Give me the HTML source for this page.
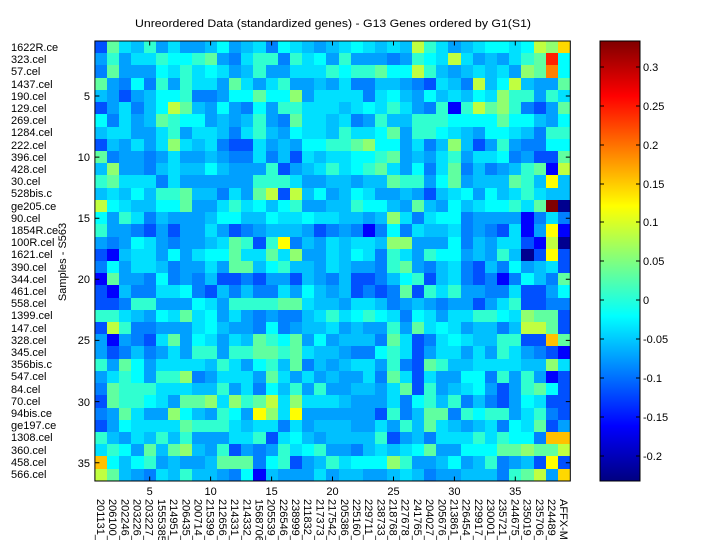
<!DOCTYPE html>
<html><head><meta charset="utf-8"><style>
html,body{margin:0;padding:0;background:#fff;width:720px;height:540px;overflow:hidden}
#hm{position:absolute;left:94.9px;top:41px;width:475.4px;height:440px;overflow:hidden}
#hm div{display:flex;height:12.222px;overflow:hidden;width:475.4px}
#hm i{display:block;flex:0 0 12.19px;height:100%}
.N{background:#00008f}.B{background:#0000ff}.b{background:#0050ff}.m{background:#0080ff}.a{background:#00a0ff}.s{background:#00c0ff}.c{background:#00e0ff}.C{background:#00ffff}.t{background:#30ffd0}.g{background:#60ffa0}.G{background:#90ff70}.y{background:#c0ff40}.Y{background:#ffff00}.Q{background:#ffd800}.O{background:#ffc000}.o{background:#ff8000}.R{background:#ff2000}.D{background:#800000}
svg{position:absolute;left:0;top:0}
text{font-family:"Liberation Sans",sans-serif;font-size:11px;fill:#000}
</style></head><body>
<div id="hm">
<div><i class=b></i><i class=g></i><i class=c></i><i class=s></i><i class=t></i><i class=a></i><i class=c></i><i class=a></i><i class=a></i><i class=s></i><i class=C></i><i class=a></i><i class=s></i><i class=c></i><i class=m></i><i class=C></i><i class=c></i><i class=s></i><i class=a></i><i class=s></i><i class=c></i><i class=C></i><i class=c></i><i class=s></i><i class=c></i><i class=s></i><i class=y></i><i class=t></i><i class=c></i><i class=a></i><i class=s></i><i class=c></i><i class=C></i><i class=C></i><i class=c></i><i class=C></i><i class=y></i><i class=G></i><i class=Q></i></div>
<div><i class=a></i><i class=t></i><i class=a></i><i class=c></i><i class=c></i><i class=t></i><i class=C></i><i class=C></i><i class=t></i><i class=g></i><i class=a></i><i class=m></i><i class=c></i><i class=t></i><i class=t></i><i class=m></i><i class=t></i><i class=c></i><i class=C></i><i class=a></i><i class=t></i><i class=a></i><i class=a></i><i class=a></i><i class=m></i><i class=a></i><i class=t></i><i class=C></i><i class=c></i><i class=y></i><i class=c></i><i class=a></i><i class=s></i><i class=a></i><i class=c></i><i class=t></i><i class=g></i><i class=R></i><i class=C></i></div>
<div><i class=m></i><i class=g></i><i class=a></i><i class=a></i><i class=a></i><i class=C></i><i class=c></i><i class=t></i><i class=c></i><i class=C></i><i class=c></i><i class=a></i><i class=s></i><i class=t></i><i class=a></i><i class=a></i><i class=c></i><i class=c></i><i class=c></i><i class=t></i><i class=C></i><i class=t></i><i class=t></i><i class=g></i><i class=C></i><i class=C></i><i class=y></i><i class=t></i><i class=s></i><i class=a></i><i class=s></i><i class=c></i><i class=s></i><i class=c></i><i class=a></i><i class=G></i><i class=g></i><i class=o></i><i class=C></i></div>
<div><i class=g></i><i class=a></i><i class=m></i><i class=C></i><i class=m></i><i class=t></i><i class=a></i><i class=t></i><i class=c></i><i class=c></i><i class=a></i><i class=g></i><i class=c></i><i class=a></i><i class=c></i><i class=t></i><i class=a></i><i class=a></i><i class=s></i><i class=a></i><i class=c></i><i class=m></i><i class=m></i><i class=s></i><i class=s></i><i class=a></i><i class=m></i><i class=b></i><i class=c></i><i class=s></i><i class=m></i><i class=y></i><i class=s></i><i class=C></i><i class=y></i><i class=s></i><i class=a></i><i class=a></i><i class=g></i></div>
<div><i class=s></i><i class=a></i><i class=b></i><i class=a></i><i class=s></i><i class=C></i><i class=C></i><i class=t></i><i class=m></i><i class=m></i><i class=a></i><i class=C></i><i class=C></i><i class=g></i><i class=C></i><i class=C></i><i class=G></i><i class=a></i><i class=c></i><i class=c></i><i class=c></i><i class=c></i><i class=m></i><i class=c></i><i class=C></i><i class=s></i><i class=a></i><i class=C></i><i class=s></i><i class=c></i><i class=s></i><i class=C></i><i class=c></i><i class=G></i><i class=t></i><i class=t></i><i class=a></i><i class=t></i><i class=c></i></div>
<div><i class=b></i><i class=a></i><i class=c></i><i class=m></i><i class=s></i><i class=C></i><i class=y></i><i class=g></i><i class=s></i><i class=a></i><i class=C></i><i class=a></i><i class=m></i><i class=C></i><i class=a></i><i class=t></i><i class=t></i><i class=c></i><i class=c></i><i class=c></i><i class=s></i><i class=c></i><i class=C></i><i class=c></i><i class=t></i><i class=c></i><i class=a></i><i class=m></i><i class=t></i><i class=B></i><i class=t></i><i class=y></i><i class=g></i><i class=G></i><i class=t></i><i class=m></i><i class=b></i><i class=a></i><i class=g></i></div>
<div><i class=C></i><i class=m></i><i class=c></i><i class=a></i><i class=s></i><i class=g></i><i class=t></i><i class=C></i><i class=C></i><i class=a></i><i class=s></i><i class=a></i><i class=s></i><i class=t></i><i class=a></i><i class=m></i><i class=g></i><i class=c></i><i class=c></i><i class=s></i><i class=c></i><i class=m></i><i class=a></i><i class=t></i><i class=s></i><i class=s></i><i class=t></i><i class=t></i><i class=t></i><i class=C></i><i class=C></i><i class=C></i><i class=C></i><i class=g></i><i class=C></i><i class=C></i><i class=s></i><i class=a></i><i class=C></i></div>
<div><i class=s></i><i class=c></i><i class=c></i><i class=a></i><i class=a></i><i class=c></i><i class=t></i><i class=a></i><i class=c></i><i class=c></i><i class=s></i><i class=m></i><i class=c></i><i class=t></i><i class=s></i><i class=a></i><i class=C></i><i class=c></i><i class=c></i><i class=s></i><i class=t></i><i class=c></i><i class=c></i><i class=C></i><i class=g></i><i class=a></i><i class=t></i><i class=t></i><i class=C></i><i class=c></i><i class=s></i><i class=a></i><i class=C></i><i class=C></i><i class=c></i><i class=s></i><i class=m></i><i class=t></i><i class=t></i></div>
<div><i class=b></i><i class=s></i><i class=a></i><i class=c></i><i class=a></i><i class=c></i><i class=G></i><i class=c></i><i class=s></i><i class=c></i><i class=m></i><i class=b></i><i class=b></i><i class=c></i><i class=a></i><i class=s></i><i class=a></i><i class=C></i><i class=C></i><i class=t></i><i class=t></i><i class=g></i><i class=G></i><i class=C></i><i class=C></i><i class=a></i><i class=c></i><i class=m></i><i class=s></i><i class=G></i><i class=s></i><i class=b></i><i class=a></i><i class=t></i><i class=a></i><i class=m></i><i class=m></i><i class=C></i><i class=C></i></div>
<div><i class=g></i><i class=m></i><i class=a></i><i class=a></i><i class=m></i><i class=a></i><i class=c></i><i class=a></i><i class=a></i><i class=s></i><i class=a></i><i class=m></i><i class=m></i><i class=c></i><i class=m></i><i class=s></i><i class=b></i><i class=c></i><i class=s></i><i class=c></i><i class=c></i><i class=C></i><i class=C></i><i class=t></i><i class=g></i><i class=a></i><i class=s></i><i class=a></i><i class=c></i><i class=t></i><i class=a></i><i class=c></i><i class=c></i><i class=C></i><i class=m></i><i class=a></i><i class=b></i><i class=b></i><i class=g></i></div>
<div><i class=s></i><i class=G></i><i class=a></i><i class=a></i><i class=m></i><i class=s></i><i class=c></i><i class=s></i><i class=s></i><i class=C></i><i class=s></i><i class=a></i><i class=a></i><i class=a></i><i class=t></i><i class=b></i><i class=a></i><i class=s></i><i class=c></i><i class=t></i><i class=c></i><i class=C></i><i class=t></i><i class=g></i><i class=c></i><i class=a></i><i class=C></i><i class=m></i><i class=c></i><i class=g></i><i class=m></i><i class=s></i><i class=m></i><i class=a></i><i class=s></i><i class=t></i><i class=g></i><i class=B></i><i class=y></i></div>
<div><i class=t></i><i class=g></i><i class=c></i><i class=c></i><i class=c></i><i class=m></i><i class=c></i><i class=a></i><i class=a></i><i class=a></i><i class=a></i><i class=a></i><i class=a></i><i class=t></i><i class=t></i><i class=t></i><i class=c></i><i class=a></i><i class=a></i><i class=s></i><i class=s></i><i class=a></i><i class=s></i><i class=s></i><i class=g></i><i class=t></i><i class=t></i><i class=a></i><i class=C></i><i class=g></i><i class=a></i><i class=s></i><i class=s></i><i class=s></i><i class=g></i><i class=t></i><i class=s></i><i class=Y></i><i class=s></i></div>
<div><i class=s></i><i class=c></i><i class=s></i><i class=C></i><i class=s></i><i class=t></i><i class=t></i><i class=g></i><i class=s></i><i class=s></i><i class=m></i><i class=c></i><i class=a></i><i class=g></i><i class=y></i><i class=b></i><i class=y></i><i class=s></i><i class=C></i><i class=a></i><i class=s></i><i class=C></i><i class=c></i><i class=a></i><i class=a></i><i class=s></i><i class=a></i><i class=b></i><i class=s></i><i class=c></i><i class=C></i><i class=a></i><i class=C></i><i class=s></i><i class=c></i><i class=t></i><i class=c></i><i class=s></i><i class=s></i></div>
<div><i class=y></i><i class=C></i><i class=c></i><i class=s></i><i class=s></i><i class=C></i><i class=C></i><i class=g></i><i class=a></i><i class=a></i><i class=c></i><i class=t></i><i class=c></i><i class=C></i><i class=s></i><i class=C></i><i class=t></i><i class=a></i><i class=a></i><i class=s></i><i class=s></i><i class=t></i><i class=C></i><i class=C></i><i class=s></i><i class=a></i><i class=g></i><i class=s></i><i class=a></i><i class=C></i><i class=s></i><i class=c></i><i class=C></i><i class=C></i><i class=t></i><i class=c></i><i class=g></i><i class=D></i><i class=N></i></div>
<div><i class=C></i><i class=a></i><i class=t></i><i class=c></i><i class=m></i><i class=s></i><i class=a></i><i class=a></i><i class=a></i><i class=s></i><i class=C></i><i class=C></i><i class=s></i><i class=s></i><i class=C></i><i class=c></i><i class=c></i><i class=C></i><i class=c></i><i class=c></i><i class=s></i><i class=s></i><i class=a></i><i class=s></i><i class=G></i><i class=c></i><i class=m></i><i class=c></i><i class=C></i><i class=C></i><i class=m></i><i class=a></i><i class=a></i><i class=a></i><i class=a></i><i class=B></i><i class=m></i><i class=c></i><i class=m></i></div>
<div><i class=t></i><i class=a></i><i class=a></i><i class=m></i><i class=b></i><i class=a></i><i class=b></i><i class=a></i><i class=a></i><i class=c></i><i class=a></i><i class=b></i><i class=m></i><i class=a></i><i class=s></i><i class=s></i><i class=s></i><i class=a></i><i class=b></i><i class=m></i><i class=a></i><i class=m></i><i class=B></i><i class=m></i><i class=C></i><i class=m></i><i class=c></i><i class=s></i><i class=s></i><i class=c></i><i class=m></i><i class=a></i><i class=m></i><i class=b></i><i class=c></i><i class=B></i><i class=a></i><i class=Y></i><i class=B></i></div>
<div><i class=a></i><i class=m></i><i class=a></i><i class=C></i><i class=c></i><i class=a></i><i class=m></i><i class=a></i><i class=a></i><i class=s></i><i class=c></i><i class=g></i><i class=t></i><i class=b></i><i class=t></i><i class=Y></i><i class=m></i><i class=s></i><i class=a></i><i class=c></i><i class=s></i><i class=c></i><i class=c></i><i class=s></i><i class=G></i><i class=G></i><i class=a></i><i class=a></i><i class=a></i><i class=C></i><i class=m></i><i class=s></i><i class=a></i><i class=c></i><i class=c></i><i class=b></i><i class=B></i><i class=y></i><i class=N></i></div>
<div><i class=b></i><i class=B></i><i class=s></i><i class=c></i><i class=c></i><i class=a></i><i class=C></i><i class=a></i><i class=c></i><i class=C></i><i class=C></i><i class=g></i><i class=c></i><i class=c></i><i class=g></i><i class=c></i><i class=G></i><i class=a></i><i class=a></i><i class=c></i><i class=s></i><i class=C></i><i class=c></i><i class=m></i><i class=t></i><i class=c></i><i class=a></i><i class=t></i><i class=C></i><i class=C></i><i class=a></i><i class=s></i><i class=a></i><i class=t></i><i class=s></i><i class=N></i><i class=b></i><i class=Y></i><i class=b></i></div>
<div><i class=m></i><i class=C></i><i class=a></i><i class=c></i><i class=c></i><i class=s></i><i class=m></i><i class=a></i><i class=a></i><i class=c></i><i class=a></i><i class=g></i><i class=g></i><i class=s></i><i class=C></i><i class=t></i><i class=s></i><i class=s></i><i class=a></i><i class=c></i><i class=s></i><i class=a></i><i class=a></i><i class=m></i><i class=t></i><i class=g></i><i class=a></i><i class=m></i><i class=s></i><i class=c></i><i class=m></i><i class=b></i><i class=s></i><i class=m></i><i class=C></i><i class=a></i><i class=s></i><i class=c></i><i class=b></i></div>
<div><i class=B></i><i class=g></i><i class=a></i><i class=a></i><i class=m></i><i class=C></i><i class=m></i><i class=a></i><i class=m></i><i class=s></i><i class=b></i><i class=b></i><i class=m></i><i class=b></i><i class=a></i><i class=a></i><i class=b></i><i class=s></i><i class=a></i><i class=m></i><i class=s></i><i class=b></i><i class=b></i><i class=m></i><i class=s></i><i class=C></i><i class=t></i><i class=b></i><i class=s></i><i class=c></i><i class=m></i><i class=b></i><i class=m></i><i class=B></i><i class=m></i><i class=C></i><i class=s></i><i class=m></i><i class=g></i></div>
<div><i class=b></i><i class=B></i><i class=s></i><i class=m></i><i class=m></i><i class=c></i><i class=c></i><i class=C></i><i class=m></i><i class=b></i><i class=s></i><i class=m></i><i class=s></i><i class=m></i><i class=m></i><i class=c></i><i class=a></i><i class=C></i><i class=s></i><i class=a></i><i class=s></i><i class=b></i><i class=m></i><i class=b></i><i class=m></i><i class=g></i><i class=b></i><i class=t></i><i class=c></i><i class=t></i><i class=a></i><i class=a></i><i class=m></i><i class=m></i><i class=c></i><i class=b></i><i class=b></i><i class=a></i><i class=C></i></div>
<div><i class=b></i><i class=b></i><i class=m></i><i class=t></i><i class=t></i><i class=a></i><i class=a></i><i class=a></i><i class=C></i><i class=c></i><i class=a></i><i class=t></i><i class=t></i><i class=t></i><i class=t></i><i class=g></i><i class=g></i><i class=c></i><i class=s></i><i class=s></i><i class=a></i><i class=c></i><i class=c></i><i class=s></i><i class=m></i><i class=a></i><i class=s></i><i class=a></i><i class=m></i><i class=a></i><i class=a></i><i class=b></i><i class=a></i><i class=c></i><i class=t></i><i class=b></i><i class=b></i><i class=m></i><i class=m></i></div>
<div><i class=t></i><i class=t></i><i class=c></i><i class=s></i><i class=a></i><i class=C></i><i class=c></i><i class=g></i><i class=c></i><i class=C></i><i class=a></i><i class=c></i><i class=a></i><i class=m></i><i class=a></i><i class=m></i><i class=m></i><i class=s></i><i class=c></i><i class=t></i><i class=c></i><i class=C></i><i class=t></i><i class=C></i><i class=c></i><i class=m></i><i class=C></i><i class=c></i><i class=a></i><i class=c></i><i class=c></i><i class=t></i><i class=t></i><i class=C></i><i class=c></i><i class=G></i><i class=g></i><i class=g></i><i class=b></i></div>
<div><i class=b></i><i class=y></i><i class=t></i><i class=m></i><i class=m></i><i class=a></i><i class=a></i><i class=a></i><i class=c></i><i class=C></i><i class=s></i><i class=a></i><i class=a></i><i class=m></i><i class=C></i><i class=m></i><i class=a></i><i class=s></i><i class=s></i><i class=c></i><i class=a></i><i class=s></i><i class=a></i><i class=a></i><i class=t></i><i class=a></i><i class=g></i><i class=c></i><i class=C></i><i class=c></i><i class=a></i><i class=s></i><i class=s></i><i class=m></i><i class=s></i><i class=y></i><i class=y></i><i class=g></i><i class=b></i></div>
<div><i class=a></i><i class=B></i><i class=a></i><i class=m></i><i class=b></i><i class=c></i><i class=g></i><i class=a></i><i class=C></i><i class=c></i><i class=a></i><i class=c></i><i class=s></i><i class=g></i><i class=t></i><i class=C></i><i class=g></i><i class=a></i><i class=C></i><i class=a></i><i class=s></i><i class=s></i><i class=s></i><i class=m></i><i class=g></i><i class=c></i><i class=b></i><i class=m></i><i class=c></i><i class=C></i><i class=c></i><i class=s></i><i class=s></i><i class=t></i><i class=t></i><i class=b></i><i class=b></i><i class=O></i><i class=g></i></div>
<div><i class=a></i><i class=b></i><i class=m></i><i class=s></i><i class=m></i><i class=a></i><i class=c></i><i class=a></i><i class=t></i><i class=t></i><i class=a></i><i class=t></i><i class=t></i><i class=g></i><i class=g></i><i class=t></i><i class=g></i><i class=c></i><i class=s></i><i class=s></i><i class=a></i><i class=m></i><i class=m></i><i class=C></i><i class=t></i><i class=c></i><i class=b></i><i class=a></i><i class=c></i><i class=c></i><i class=a></i><i class=c></i><i class=a></i><i class=t></i><i class=c></i><i class=a></i><i class=m></i><i class=b></i><i class=B></i></div>
<div><i class=t></i><i class=a></i><i class=g></i><i class=C></i><i class=a></i><i class=c></i><i class=c></i><i class=c></i><i class=c></i><i class=s></i><i class=t></i><i class=c></i><i class=a></i><i class=C></i><i class=t></i><i class=s></i><i class=g></i><i class=m></i><i class=s></i><i class=a></i><i class=s></i><i class=c></i><i class=c></i><i class=a></i><i class=t></i><i class=m></i><i class=b></i><i class=g></i><i class=t></i><i class=s></i><i class=s></i><i class=c></i><i class=c></i><i class=c></i><i class=c></i><i class=s></i><i class=s></i><i class=G></i><i class=c></i></div>
<div><i class=a></i><i class=c></i><i class=t></i><i class=C></i><i class=a></i><i class=t></i><i class=t></i><i class=G></i><i class=m></i><i class=a></i><i class=c></i><i class=c></i><i class=c></i><i class=a></i><i class=g></i><i class=c></i><i class=a></i><i class=c></i><i class=a></i><i class=s></i><i class=a></i><i class=a></i><i class=c></i><i class=m></i><i class=g></i><i class=c></i><i class=b></i><i class=c></i><i class=a></i><i class=a></i><i class=C></i><i class=C></i><i class=m></i><i class=t></i><i class=a></i><i class=t></i><i class=a></i><i class=B></i><i class=b></i></div>
<div><i class=m></i><i class=g></i><i class=t></i><i class=t></i><i class=t></i><i class=c></i><i class=c></i><i class=c></i><i class=s></i><i class=s></i><i class=t></i><i class=a></i><i class=c></i><i class=m></i><i class=C></i><i class=s></i><i class=t></i><i class=a></i><i class=t></i><i class=a></i><i class=a></i><i class=s></i><i class=s></i><i class=a></i><i class=c></i><i class=g></i><i class=b></i><i class=t></i><i class=a></i><i class=s></i><i class=c></i><i class=C></i><i class=a></i><i class=b></i><i class=a></i><i class=t></i><i class=g></i><i class=C></i><i class=b></i></div>
<div><i class=b></i><i class=g></i><i class=t></i><i class=t></i><i class=C></i><i class=c></i><i class=a></i><i class=g></i><i class=g></i><i class=G></i><i class=c></i><i class=G></i><i class=t></i><i class=g></i><i class=y></i><i class=c></i><i class=G></i><i class=c></i><i class=c></i><i class=c></i><i class=s></i><i class=a></i><i class=a></i><i class=a></i><i class=c></i><i class=m></i><i class=C></i><i class=t></i><i class=s></i><i class=t></i><i class=m></i><i class=s></i><i class=m></i><i class=b></i><i class=a></i><i class=C></i><i class=c></i><i class=b></i><i class=b></i></div>
<div><i class=m></i><i class=a></i><i class=g></i><i class=c></i><i class=a></i><i class=a></i><i class=G></i><i class=C></i><i class=s></i><i class=a></i><i class=t></i><i class=C></i><i class=a></i><i class=Y></i><i class=G></i><i class=c></i><i class=Y></i><i class=a></i><i class=a></i><i class=a></i><i class=a></i><i class=a></i><i class=a></i><i class=b></i><i class=t></i><i class=m></i><i class=s></i><i class=g></i><i class=g></i><i class=m></i><i class=t></i><i class=C></i><i class=t></i><i class=t></i><i class=a></i><i class=c></i><i class=t></i><i class=m></i><i class=b></i></div>
<div><i class=b></i><i class=a></i><i class=C></i><i class=c></i><i class=c></i><i class=c></i><i class=c></i><i class=g></i><i class=t></i><i class=t></i><i class=t></i><i class=c></i><i class=s></i><i class=c></i><i class=c></i><i class=m></i><i class=c></i><i class=a></i><i class=s></i><i class=s></i><i class=s></i><i class=a></i><i class=a></i><i class=c></i><i class=a></i><i class=t></i><i class=s></i><i class=g></i><i class=c></i><i class=s></i><i class=a></i><i class=s></i><i class=c></i><i class=m></i><i class=C></i><i class=c></i><i class=g></i><i class=b></i><i class=a></i></div>
<div><i class=t></i><i class=s></i><i class=a></i><i class=c></i><i class=s></i><i class=t></i><i class=s></i><i class=t></i><i class=a></i><i class=a></i><i class=a></i><i class=c></i><i class=c></i><i class=t></i><i class=b></i><i class=c></i><i class=C></i><i class=s></i><i class=a></i><i class=s></i><i class=s></i><i class=s></i><i class=s></i><i class=t></i><i class=b></i><i class=a></i><i class=s></i><i class=m></i><i class=c></i><i class=c></i><i class=c></i><i class=t></i><i class=c></i><i class=t></i><i class=C></i><i class=C></i><i class=m></i><i class=O></i><i class=O></i></div>
<div><i class=c></i><i class=t></i><i class=C></i><i class=a></i><i class=g></i><i class=s></i><i class=g></i><i class=G></i><i class=s></i><i class=a></i><i class=t></i><i class=b></i><i class=a></i><i class=m></i><i class=a></i><i class=t></i><i class=c></i><i class=C></i><i class=t></i><i class=a></i><i class=a></i><i class=m></i><i class=s></i><i class=c></i><i class=s></i><i class=c></i><i class=C></i><i class=g></i><i class=a></i><i class=a></i><i class=C></i><i class=C></i><i class=C></i><i class=g></i><i class=g></i><i class=G></i><i class=g></i><i class=g></i><i class=y></i></div>
<div><i class=O></i><i class=C></i><i class=s></i><i class=C></i><i class=t></i><i class=a></i><i class=s></i><i class=a></i><i class=a></i><i class=s></i><i class=g></i><i class=g></i><i class=g></i><i class=m></i><i class=C></i><i class=t></i><i class=b></i><i class=a></i><i class=s></i><i class=t></i><i class=c></i><i class=C></i><i class=C></i><i class=C></i><i class=G></i><i class=t></i><i class=a></i><i class=a></i><i class=s></i><i class=C></i><i class=a></i><i class=s></i><i class=t></i><i class=m></i><i class=a></i><i class=s></i><i class=b></i><i class=Y></i><i class=b></i></div>
<div><i class=y></i><i class=g></i><i class=s></i><i class=a></i><i class=m></i><i class=c></i><i class=s></i><i class=t></i><i class=s></i><i class=s></i><i class=a></i><i class=m></i><i class=C></i><i class=B></i><i class=s></i><i class=a></i><i class=a></i><i class=a></i><i class=c></i><i class=a></i><i class=s></i><i class=s></i><i class=a></i><i class=a></i><i class=s></i><i class=c></i><i class=s></i><i class=m></i><i class=a></i><i class=a></i><i class=s></i><i class=s></i><i class=s></i><i class=m></i><i class=t></i><i class=g></i><i class=y></i><i class=a></i><i class=Q></i></div>
</div>
<svg width="720" height="540" viewBox="0 0 720 540">
<defs><linearGradient id="jet" x1="0" y1="0" x2="0" y2="1">
<stop offset="0" stop-color="#800000"/><stop offset="0.125" stop-color="#ff0000"/><stop offset="0.375" stop-color="#ffff00"/><stop offset="0.625" stop-color="#00ffff"/><stop offset="0.875" stop-color="#0000ff"/><stop offset="1" stop-color="#000080"/></linearGradient></defs>
<text x="333" y="27" text-anchor="middle" textLength="396" lengthAdjust="spacingAndGlyphs">Unreordered Data (standardized genes) - G13 Genes ordered by G1(S1)</text>
<rect x="94.9" y="41" width="475.4" height="440" fill="none" stroke="#000" stroke-width="1"/>
<g stroke="#000" stroke-width="1">
<path d="M94.9 96.0h4.5M570.3 96.0h-4.5M94.9 157.1h4.5M570.3 157.1h-4.5M94.9 218.2h4.5M570.3 218.2h-4.5M94.9 279.3h4.5M570.3 279.3h-4.5M94.9 340.4h4.5M570.3 340.4h-4.5M94.9 401.6h4.5M570.3 401.6h-4.5M94.9 462.7h4.5M570.3 462.7h-4.5"/>
<path d="M149.7 481v-4.5M149.7 41v4.5M210.6 481v-4.5M210.6 41v4.5M271.6 481v-4.5M271.6 41v4.5M332.5 481v-4.5M332.5 41v4.5M393.5 481v-4.5M393.5 41v4.5M454.4 481v-4.5M454.4 41v4.5M515.3 481v-4.5M515.3 41v4.5"/>
</g>
<g text-anchor="end">
<text x="90" y="100">5</text><text x="90" y="161">10</text><text x="90" y="222">15</text><text x="90" y="283">20</text><text x="90" y="344">25</text><text x="90" y="406">30</text><text x="90" y="467">35</text>
</g>
<g text-anchor="middle">
<text x="149.7" y="495">5</text><text x="210.6" y="495">10</text><text x="271.6" y="495">15</text><text x="332.5" y="495">20</text><text x="393.5" y="495">25</text><text x="454.4" y="495">30</text><text x="515.3" y="495">35</text>
</g>
<text transform="translate(66,262) rotate(-90)" text-anchor="middle">Samples - S563</text>
<g>
<text x="11" y="51">1622R.ce</text><text x="11" y="63">323.cel</text><text x="11" y="75">57.cel</text><text x="11" y="88">1437.cel</text><text x="11" y="100">190.cel</text><text x="11" y="112">129.cel</text><text x="11" y="124">269.cel</text><text x="11" y="136">1284.cel</text><text x="11" y="149">222.cel</text><text x="11" y="161">396.cel</text><text x="11" y="173">428.cel</text><text x="11" y="185">30.cel</text><text x="11" y="197">528bis.c</text><text x="11" y="210">ge205.ce</text><text x="11" y="222">90.cel</text><text x="11" y="234">1854R.ce</text><text x="11" y="246">100R.cel</text><text x="11" y="258">1621.cel</text><text x="11" y="271">390.cel</text><text x="11" y="283">344.cel</text><text x="11" y="295">461.cel</text><text x="11" y="307">558.cel</text><text x="11" y="319">1399.cel</text><text x="11" y="332">147.cel</text><text x="11" y="344">328.cel</text><text x="11" y="356">345.cel</text><text x="11" y="368">356bis.c</text><text x="11" y="380">547.cel</text><text x="11" y="393">84.cel</text><text x="11" y="405">70.cel</text><text x="11" y="417">94bis.ce</text><text x="11" y="429">ge197.ce</text><text x="11" y="441">1308.cel</text><text x="11" y="454">360.cel</text><text x="11" y="466">458.cel</text><text x="11" y="478">566.cel</text>
</g>
<g>
<text transform="translate(97,499) rotate(90)">201131_</text><text transform="translate(109.2,499) rotate(90)">206100_</text><text transform="translate(121.4,499) rotate(90)">202246_</text><text transform="translate(133.5,499) rotate(90)">203226_</text><text transform="translate(145.7,499) rotate(90)">203227_</text><text transform="translate(157.9,499) rotate(90)">1555385</text><text transform="translate(170.1,499) rotate(90)">214951_</text><text transform="translate(182.3,499) rotate(90)">206435_</text><text transform="translate(194.5,499) rotate(90)">200714_</text><text transform="translate(206.7,499) rotate(90)">215399_</text><text transform="translate(218.9,499) rotate(90)">212656_</text><text transform="translate(231.1,499) rotate(90)">214331_</text><text transform="translate(243.3,499) rotate(90)">214332_</text><text transform="translate(255.4,499) rotate(90)">1568706</text><text transform="translate(267.6,499) rotate(90)">205539_</text><text transform="translate(279.8,499) rotate(90)">226546_</text><text transform="translate(292,499) rotate(90)">238999_</text><text transform="translate(304.2,499) rotate(90)">211832_</text><text transform="translate(316.4,499) rotate(90)">217373_</text><text transform="translate(328.6,499) rotate(90)">217542_</text><text transform="translate(340.8,499) rotate(90)">205386_</text><text transform="translate(353,499) rotate(90)">225160_</text><text transform="translate(365.1,499) rotate(90)">229711_</text><text transform="translate(377.3,499) rotate(90)">238733_</text><text transform="translate(389.5,499) rotate(90)">218768_</text><text transform="translate(401.7,499) rotate(90)">227678_</text><text transform="translate(413.9,499) rotate(90)">241765_</text><text transform="translate(426.1,499) rotate(90)">204027_</text><text transform="translate(438.3,499) rotate(90)">205676_</text><text transform="translate(450.5,499) rotate(90)">213861_</text><text transform="translate(462.7,499) rotate(90)">226454_</text><text transform="translate(474.8,499) rotate(90)">229917_</text><text transform="translate(487,499) rotate(90)">230001_</text><text transform="translate(499.2,499) rotate(90)">235721_</text><text transform="translate(511.4,499) rotate(90)">244675_</text><text transform="translate(523.6,499) rotate(90)">235019_</text><text transform="translate(535.8,499) rotate(90)">235706_</text><text transform="translate(548,499) rotate(90)">224489_</text><text transform="translate(560.2,499) rotate(90)">AFFX-M</text>
</g>
<rect x="600" y="41" width="40" height="440" fill="url(#jet)" stroke="#000" stroke-width="1"/>
<g stroke="#000" stroke-width="1">
<path d="M600 67h4M640 67h-4M600 106h4M640 106h-4M600 145h4M640 145h-4M600 184h4M640 184h-4M600 222h4M640 222h-4M600 261h4M640 261h-4M600 300h4M640 300h-4M600 339h4M640 339h-4M600 378h4M640 378h-4M600 417h4M640 417h-4M600 456h4M640 456h-4"/>
</g>
<g>
<text x="643" y="71">0.3</text><text x="643" y="110">0.25</text><text x="643" y="149">0.2</text><text x="643" y="188">0.15</text><text x="643" y="226">0.1</text><text x="643" y="265">0.05</text><text x="643" y="304">0</text><text x="643" y="343">-0.05</text><text x="643" y="382">-0.1</text><text x="643" y="421">-0.15</text><text x="643" y="460">-0.2</text>
</g>
</svg>
</body></html>
